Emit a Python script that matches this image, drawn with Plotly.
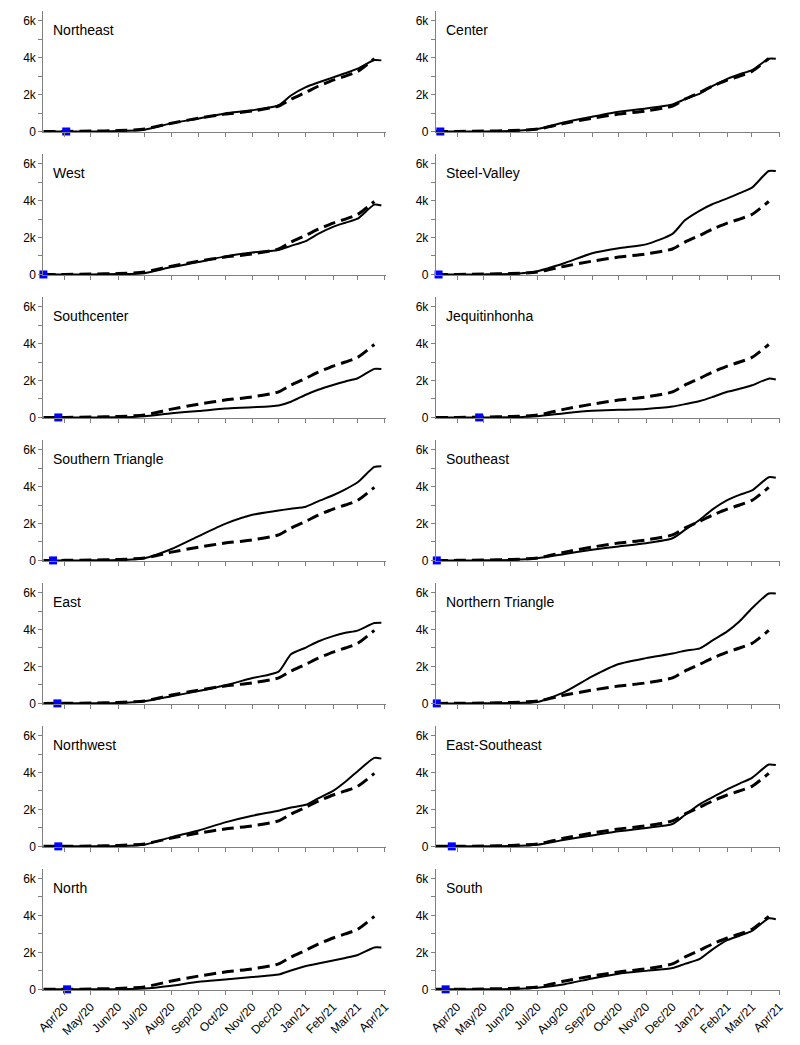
import plotly.graph_objects as go

dates = ["2020-03-08", "2020-04-01", "2020-05-01", "2020-06-01", "2020-07-01", "2020-08-01",
         "2020-09-01", "2020-10-01", "2020-11-01", "2020-12-01", "2020-12-15", "2021-01-01",
         "2021-01-15", "2021-02-01", "2021-02-15", "2021-03-01", "2021-03-20", "2021-03-28"]

state = [0, 3, 20, 50, 130, 450, 720, 940, 1110, 1380, 1750, 2120, 2450, 2780, 3000, 3250, 3950, None]

regions = ["Northeast", "Center", "West", "Steel-Valley", "Southcenter", "Jequitinhonha",
           "Southern Triangle", "Southeast", "East", "Northern Triangle", "Northwest",
           "East-Southeast", "North", "South"]

northeast = [0, 0, 5, 20, 100, 450, 700, 980, 1150, 1420, 1950, 2400, 2650, 2930, 3150, 3400, 3870, 3850]
center = [0, 0, 5, 30, 140, 500, 800, 1070, 1250, 1460, 1750, 2050, 2450, 2850, 3100, 3320, 3940, 3940]
west = [0, 0, 5, 20, 70, 400, 670, 980, 1190, 1330, 1550, 1810, 2200, 2580, 2800, 3020, 3780, 3730]
steel_valley = [0, 0, 5, 30, 180, 620, 1150, 1420, 1630, 2200, 2930, 3460, 3800, 4120, 4400, 4700, 5600, 5600]
southcenter = [0, 0, 3, 10, 70, 230, 350, 480, 550, 650, 850, 1230, 1500, 1760, 1950, 2120, 2630, 2620]
jequitinhonha = [0, 0, 0, 10, 70, 230, 360, 410, 460, 590, 720, 890, 1100, 1390, 1550, 1740, 2100, 2050]
southern_triangle = [0, 0, 5, 20, 120, 620, 1320, 1980, 2470, 2700, 2800, 2910, 3200, 3530, 3850, 4230, 5060, 5100]
southeast = [0, 0, 5, 30, 120, 350, 580, 760, 930, 1200, 1650, 2200, 2750, 3260, 3550, 3790, 4500, 4480]
east = [0, 0, 5, 20, 120, 390, 670, 980, 1370, 1720, 2660, 3020, 3350, 3640, 3820, 3940, 4350, 4370]
northern_triangle = [0, 0, 5, 20, 70, 620, 1460, 2130, 2450, 2700, 2850, 2980, 3400, 3900, 4450, 5150, 5950, 5950]
northwest = [0, 0, 5, 20, 90, 500, 860, 1300, 1660, 1930, 2100, 2250, 2600, 3000, 3500, 4070, 4790, 4750]
east_southeast = [0, 0, 5, 20, 90, 360, 590, 820, 1000, 1210, 1700, 2290, 2650, 3090, 3400, 3710, 4430, 4400]
north = [0, 0, 0, 10, 40, 200, 410, 530, 670, 800, 1020, 1260, 1400, 1560, 1700, 1860, 2270, 2270]
south = [0, 0, 3, 20, 90, 280, 590, 850, 1000, 1150, 1380, 1650, 2150, 2660, 2900, 3160, 3840, 3800]

region_values = [northeast, center, west, steel_valley, southcenter, jequitinhonha,
                 southern_triangle, southeast, east, northern_triangle, northwest,
                 east_southeast, north, south]

first_case = ["2020-04-03", "2020-03-13", "2020-03-08", "2020-03-11", "2020-03-25", "2020-04-26",
              "2020-03-19", "2020-03-09", "2020-03-24", "2020-03-09", "2020-03-25",
              "2020-03-26", "2020-04-04", "2020-03-19"]

month_ticks = ["2020-04-01", "2020-05-01", "2020-06-01", "2020-07-01", "2020-08-01", "2020-09-01",
               "2020-10-01", "2020-11-01", "2020-12-01", "2021-01-01", "2021-02-01", "2021-03-01",
               "2021-04-01"]
month_labels = ["Apr/20", "May/20", "Jun/20", "Jul/20", "Aug/20", "Sep/20", "Oct/20", "Nov/20",
                "Dec/20", "Jan/21", "Feb/21", "Mar/21", "Apr/21"]

y_ticks = [0, 1000, 2000, 3000, 4000, 5000, 6000]
y_labels = ["0", "", "2k", "", "4k", "", "6k"]

W, H = 800, 1045
FONT = "Arial, Liberation Sans, sans-serif"
AXIS_GREY = "#808080"

fig = go.Figure()
col_x = [(37, 385), (436, 786)]

for i, name in enumerate(regions):
    r, c = divmod(i, 2)
    n = i + 1
    xa = "x" if n == 1 else f"x{n}"
    ya = "y" if n == 1 else f"y{n}"
    zero_px = 133 + 143.8 * r
    top_px = zero_px - 121.5
    bottom_row = r == 6

    fig.add_trace(go.Scatter(x=dates, y=state, mode="lines", xaxis=xa, yaxis=ya,
                             line=dict(color="black", width=3, dash="12px,6px", shape="spline", smoothing=0.6),
                             showlegend=False, connectgaps=False))
    fig.add_trace(go.Scatter(x=dates, y=region_values[i], mode="lines", xaxis=xa, yaxis=ya,
                             line=dict(color="black", width=2, shape="spline", smoothing=0.6),
                             showlegend=False))
    fig.add_trace(go.Scatter(x=[first_case[i]], y=[0], mode="markers", xaxis=xa, yaxis=ya,
                             marker=dict(color="#0000ff", size=8, symbol="square"),
                             cliponaxis=False, showlegend=False))

    x0, x1 = col_x[c]
    fig.layout[f"xaxis{'' if n == 1 else n}"] = dict(
        domain=[x0 / W, x1 / W], anchor=ya,
        range=["2020-03-08", "2021-04-02"], type="date",
        showline=True, linecolor=AXIS_GREY, linewidth=1.3,
        ticks="outside", ticklen=4, tickcolor=AXIS_GREY, tickwidth=1,
        tickvals=month_ticks, ticktext=month_labels,
        showticklabels=bottom_row, tickangle=-45,
        tickfont=dict(family=FONT, size=12, color="black"),
        showgrid=False, zeroline=False,
    )
    fig.layout[f"yaxis{'' if n == 1 else n}"] = dict(
        domain=[1 - zero_px / H, 1 - top_px / H], anchor=xa,
        range=[-40, 6500],
        showline=True, linecolor=AXIS_GREY, linewidth=1.3,
        ticks="outside", ticklen=4, tickcolor=AXIS_GREY, tickwidth=1,
        tickvals=y_ticks, ticktext=y_labels,
        tickfont=dict(family=FONT, size=12, color="black"),
        showgrid=False, zeroline=False,
    )
    fig.add_annotation(text=name, xref="paper", yref="paper",
                       x=(x0 + 8) / W, y=1 - (30 + 143.8 * r) / H,
                       xanchor="left", yanchor="middle", showarrow=False,
                       font=dict(family=FONT, size=14, color="black"))

fig.update_layout(width=W, height=H, margin=dict(l=0, r=0, t=0, b=0),
                  paper_bgcolor="white", plot_bgcolor="white")
fig.write_html("out.html", config={"displayModeBar": False},
               post_script="document.body.style.margin='0';document.body.style.overflow='hidden';")
